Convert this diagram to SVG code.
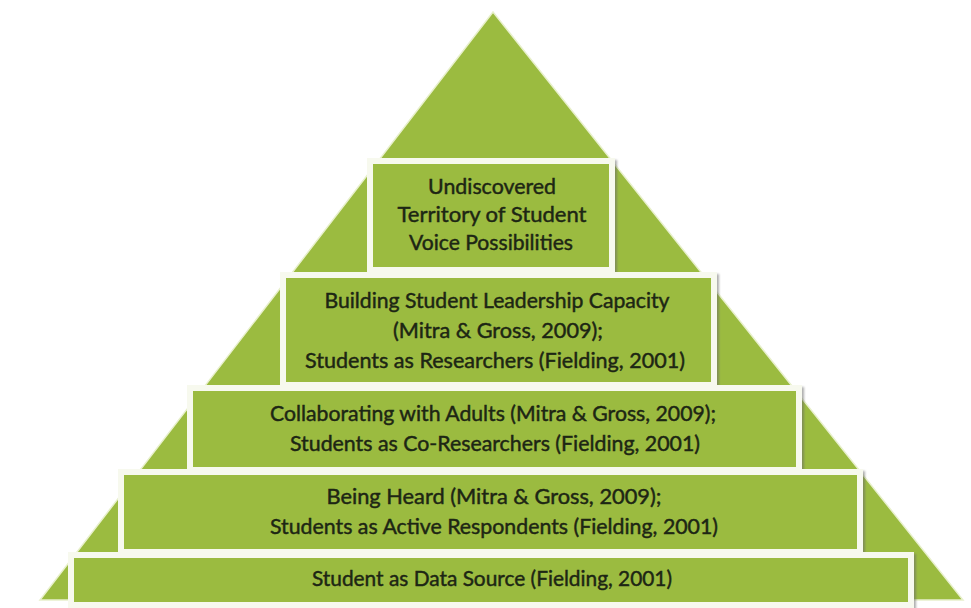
<svg xmlns="http://www.w3.org/2000/svg" width="971" height="608" viewBox="0 0 971 608">
  <defs>
    <filter id="shadow" x="-5%" y="-10%" width="110%" height="125%">
      <feDropShadow dx="2" dy="2" stdDeviation="1" flood-color="#6b6b6b" flood-opacity="0.55"/>
    </filter>
  </defs>
  <style>
    .tier { fill: #9bbb40; stroke: #f7f9ee; stroke-width: 6; filter: url(#shadow); }
    .label { font-family: Lato, "Open Sans", sans-serif; font-size: 21px; fill: #1d2614; stroke: #1d2614; stroke-width: 0.45; text-anchor: middle; }
  </style>

  <rect width="971" height="608" fill="#ffffff"/>

  <!-- background pyramid -->
  <polygon id="pyramid" points="493,12 963,600 40,600" fill="#9bbb40" stroke="#e8f0cc" stroke-width="1.5"/>

  <g id="connectors"/>

  <!-- tiers, top to bottom -->
  <g id="tier-top">
    <rect class="tier" x="370" y="161" width="242" height="109"/>
    <text class="label" x="492" y="194" textLength="128" lengthAdjust="spacingAndGlyphs">Undiscovered</text>
    <text class="label" x="492" y="222" textLength="189" lengthAdjust="spacingAndGlyphs">Territory of Student</text>
    <text class="label" x="491" y="250" textLength="164" lengthAdjust="spacingAndGlyphs">Voice Possibilities</text>
  </g>

  <g id="tier-leadership">
    <rect class="tier" x="283" y="275" width="431" height="110"/>
    <text class="label" x="497" y="308" textLength="345" lengthAdjust="spacingAndGlyphs">Building Student Leadership Capacity</text>
    <text class="label" x="498" y="338" textLength="210" lengthAdjust="spacingAndGlyphs">(Mitra &amp; Gross, 2009);</text>
    <text class="label" x="495" y="368" textLength="380" lengthAdjust="spacingAndGlyphs">Students as Researchers (Fielding, 2001)</text>
  </g>

  <g id="tier-collaborating">
    <rect class="tier" x="190" y="388" width="609" height="82"/>
    <text class="label" x="493" y="421" textLength="446" lengthAdjust="spacingAndGlyphs">Collaborating with Adults (Mitra &amp; Gross, 2009);</text>
    <text class="label" x="495" y="451" textLength="410" lengthAdjust="spacingAndGlyphs">Students as Co-Researchers (Fielding, 2001)</text>
  </g>

  <g id="tier-heard">
    <rect class="tier" x="121" y="472" width="739" height="80"/>
    <text class="label" x="494" y="504" textLength="335" lengthAdjust="spacingAndGlyphs">Being Heard (Mitra &amp; Gross, 2009);</text>
    <text class="label" x="494" y="534" textLength="448" lengthAdjust="spacingAndGlyphs">Students as Active Respondents (Fielding, 2001)</text>
  </g>

  <g id="tier-data-source">
    <rect class="tier" x="71" y="555" width="840" height="50"/>
    <text class="label" x="492" y="586" textLength="360" lengthAdjust="spacingAndGlyphs">Student as Data Source (Fielding, 2001)</text>
  </g>
</svg>
